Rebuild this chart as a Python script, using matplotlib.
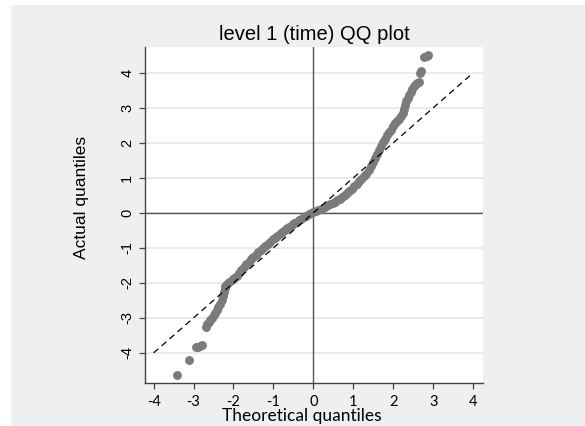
import matplotlib
matplotlib.use("Agg")
import matplotlib.pyplot as plt
from matplotlib.patches import Rectangle

plt.rcParams["axes.unicode_minus"] = False

# theoretical vs. actual quantiles of the level 1 (time) residuals
theoretical = [
    -3.42, -3.11, -2.95, -2.90, -2.84, -2.78,
    -2.70, -2.66, -2.62, -2.58, -2.54, -2.50, -2.46, -2.42, -2.38, -2.34,
    -2.30, -2.27, -2.24, -2.22, -2.21, -2.16, -2.10, -2.04, -1.98, -1.92,
    -1.86, -1.80, -1.74, -1.68, -1.62, -1.56, -1.50, -1.44, -1.38, -1.32,
    -1.26, -1.20, -1.14, -1.08, -1.02, -0.96, -0.90, -0.84, -0.78, -0.72,
    -0.66, -0.60, -0.54, -0.48, -0.42, -0.36, -0.30, -0.24, -0.18, -0.12,
    -0.06, 0.00, 0.06, 0.12, 0.18, 0.24, 0.30, 0.36, 0.42, 0.48,
    0.54, 0.60, 0.66, 0.72, 0.78, 0.84, 0.90, 0.96, 1.02, 1.08,
    1.14, 1.20, 1.26, 1.32, 1.38, 1.44, 1.50, 1.55, 1.60, 1.65,
    1.70, 1.75, 1.80, 1.85, 1.90, 1.95, 2.00, 2.05, 2.10, 2.15,
    2.20, 2.25, 2.28, 2.30, 2.32, 2.36, 2.40, 2.44, 2.48, 2.52,
    2.56, 2.60, 2.64, 2.68, 2.70, 2.78, 2.84, 2.88,
]
actual = [
    -4.62, -4.20, -3.84, -3.82, -3.80, -3.78,
    -3.25, -3.18, -3.12, -3.07, -3.01, -2.93, -2.86, -2.78, -2.70, -2.60,
    -2.48, -2.37, -2.26, -2.16, -2.08, -2.03, -1.97, -1.92, -1.86, -1.79,
    -1.71, -1.62, -1.54, -1.47, -1.39, -1.32, -1.26, -1.20, -1.13, -1.06,
    -0.99, -0.94, -0.88, -0.82, -0.76, -0.71, -0.65, -0.60, -0.54, -0.49,
    -0.44, -0.39, -0.34, -0.29, -0.25, -0.21, -0.17, -0.12, -0.08, -0.04,
    0.00, 0.02, 0.05, 0.08, 0.11, 0.14, 0.18, 0.21, 0.25, 0.28,
    0.32, 0.36, 0.40, 0.45, 0.51, 0.56, 0.62, 0.69, 0.76, 0.83,
    0.90, 0.96, 1.04, 1.12, 1.22, 1.34, 1.46, 1.56, 1.67, 1.80,
    1.92, 2.02, 2.12, 2.21, 2.30, 2.38, 2.47, 2.56, 2.61, 2.68,
    2.76, 2.86, 2.97, 3.08, 3.18, 3.27, 3.36, 3.45, 3.53, 3.61,
    3.67, 3.71, 3.73, 3.98, 4.06, 4.46, 4.49, 4.50,
]
ticks = [-4, -3, -2, -1, 0, 1, 2, 3, 4]

fig = plt.figure(figsize=(5.85, 4.26), dpi=100, facecolor="white")
fig.patches.append(Rectangle((11 / 585, 0), 1, 1 - 5 / 426, transform=fig.transFigure,
                             facecolor="#eeeff1", edgecolor="none", zorder=-1))
ax = fig.add_axes([0.2475, 0.100, 0.5785, 0.790])
ax.set_facecolor("white")

# grid and reference lines
ax.set_yticks(ticks)
ax.set_xticks(ticks)
ax.yaxis.grid(True, color="#e8e8e8", lw=1.2)
ax.set_axisbelow(True)
ax.axhline(0, color="#555555", lw=1.0, zorder=1)
ax.axvline(0, color="#555555", lw=1.0, zorder=1)

# 45 degree line and the quantile points
ax.plot([-4, 4], [-4, 4], color="black", lw=0.9, ls=(0, (5, 3.5)), zorder=3)
ax.plot(theoretical, actual, "o", color="#7b7b7b", ms=6.4, mec="none", zorder=2)

ax.set_xlim(-4.22, 4.25)
ax.set_ylim(-4.87, 4.74)

for side in ["top", "right"]:
    ax.spines[side].set_visible(False)
for side in ["left", "bottom"]:
    ax.spines[side].set_color("#444444")
    ax.spines[side].set_linewidth(1.0)

ax.tick_params(axis="both", direction="out", length=4.5, width=0.9, color="#444444")
ax.tick_params(axis="y", pad=3)
ax.tick_params(axis="x", pad=4)
for lab in ax.get_yticklabels():
    lab.set_rotation(90)
    lab.set_va("center")
    lab.set_family("Liberation Sans")
    lab.set_fontsize(10.5)
for lab in ax.get_xticklabels():
    lab.set_family("Lato")
    lab.set_fontsize(10.5)

ax.set_title("level 1 (time) QQ plot", family="Liberation Sans", fontsize=14.5, pad=5)
ax.set_xlabel("Theoretical quantiles", family="Lato", fontsize=12.5)
ax.set_ylabel("Actual quantiles", family="Liberation Sans", fontsize=12.5)
ax.xaxis.set_label_coords(0.465, -0.072)
ax.yaxis.set_label_coords(-0.165, 0.553)

fig.savefig("out.png", dpi=100, facecolor=fig.get_facecolor())
